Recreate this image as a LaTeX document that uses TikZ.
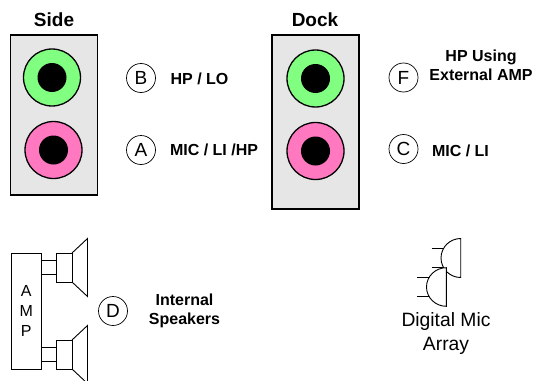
\documentclass[tikz,border=0pt]{standalone}
\usepackage{fontspec}
\setmainfont{Liberation Sans}
\definecolor{panelgray}{HTML}{E6E6E6}
\definecolor{jackgreen}{HTML}{80FF80}
\definecolor{jackpink}{HTML}{FF78C0}
\tikzset{
  panel/.style={draw=black,line width=1.5pt,fill=panelgray,minimum width=#1,inner sep=0pt,outer sep=0pt},
  ring/.style={circle,draw=black,line width=1.3pt,fill=#1,minimum size=57pt,inner sep=0pt},
  hole/.style={circle,fill=black,minimum size=29pt,inner sep=0pt},
  letter/.style={circle,draw=black,line width=0.7pt,minimum size=29pt,inner sep=0pt,font=\fontsize{19}{19}\selectfont},
  title/.style={font=\fontsize{19}{19}\selectfont\bfseries,inner sep=0pt},
  lab/.style={font=\fontsize{16}{19}\selectfont\bfseries,align=center,inner sep=0pt},
  plain/.style={font=\fontsize{19.3}{24}\selectfont,align=center,inner sep=0pt},
  ln/.style={draw=black,line width=0.9pt},
}
\begin{document}
\begin{tikzpicture}[x=1pt,y=-1pt]
\useasboundingbox (0,0) rectangle (535,380);
\clip (0,0) rectangle (535,380);
% Side
\node[panel=87pt,minimum height=160pt] (side) at (54,115) {};
\node[title] (sidet) at (54,20) {Side};
\node[ring=jackgreen] (s1) at (52,77.5) {};
\node[hole] (s1h) at (52,77.5) {};
\node[ring=jackpink] (s2) at (53.5,150) {};
\node[hole] (s2h) at (53.5,150) {};
\node[letter] (b) at (141,78) {B};
\node[letter] (a) at (141,150) {A};
\node[lab] (bl) at (199.5,78.5) {HP / LO};
\node[lab] (al) at (214,150) {MIC / LI /HP};
% Dock
\node[panel=87pt,minimum height=174pt] (dock) at (315.5,122) {};
\node[title] (dockt) at (315,20) {Dock};
\node[ring=jackgreen] (d1) at (315.5,78.5) {};
\node[hole] (d1h) at (315.5,78.5) {};
\node[ring=jackpink] (d2) at (315.5,151) {};
\node[hole] (d2h) at (315.5,151) {};
\node[letter] (f) at (403.5,77.5) {F};
\node[letter] (c) at (403.5,149) {C};
\node[lab] (fl) at (481,65) {HP Using\\External AMP};
\node[lab] (cl) at (460.5,151) {MIC / LI};
% Amp and speakers
\node[ln,draw,minimum width=29.5pt,minimum height=116pt,inner sep=0pt,outer sep=0pt,font=\fontsize{16}{20}\selectfont,align=center] (amp) at (26.2,311) {A\\M\\P};
\node[ln,draw,minimum width=16pt,minimum height=29pt,inner sep=0pt,outer sep=0pt] (sp1) at (64,267.5) {};
\node[ln,draw,minimum width=16pt,minimum height=29pt,inner sep=0pt,outer sep=0pt] (sp2) at (64,354.5) {};
\coordinate (w1a) at (amp.east |- 0,260.3);
\coordinate (w1b) at (amp.east |- 0,274.7);
\coordinate (w2a) at (amp.east |- 0,347.3);
\coordinate (w2b) at (amp.east |- 0,361.7);
\draw[ln] (w1a) -- (sp1.west |- w1a) (w1b) -- (sp1.west |- w1b);
\draw[ln] (w2a) -- (sp2.west |- w2a) (w2b) -- (sp2.west |- w2b);
\draw[ln] (sp1.north east) -- (87.5,238.5) -- (87.5,296.5) -- (sp1.south east);
\draw[ln] (sp2.north east) -- (87.5,325.5) -- (87.5,383.5) -- (sp2.south east);
\node[letter] (d) at (113,311) {D};
\node[lab] (dl) at (184.5,311) {Internal\\Speakers};
% Mics
\coordinate (m1a) at (431.5,248.5);
\coordinate (m1b) at (431.5,267.5);
\draw[ln] (m1a) -- (445,248.5) (m1b) -- (445,267.5);
\draw[ln,fill=white] (460.7,238.5) arc[start angle=90,end angle=270,x radius=19.7pt,y radius=19.5pt] -- cycle;
\coordinate (m2a) at (417,277.5);
\coordinate (m2b) at (417,296.5);
\draw[ln] (m2a) -- (430,277.5) (m2b) -- (430,296.5);
\draw[ln,fill=white] (446.3,267.7) arc[start angle=90,end angle=270,x radius=19.8pt,y radius=19.3pt] -- cycle;
\node[plain] (ml) at (446,333.5) {Digital Mic\\Array};
\end{tikzpicture}
\end{document}
